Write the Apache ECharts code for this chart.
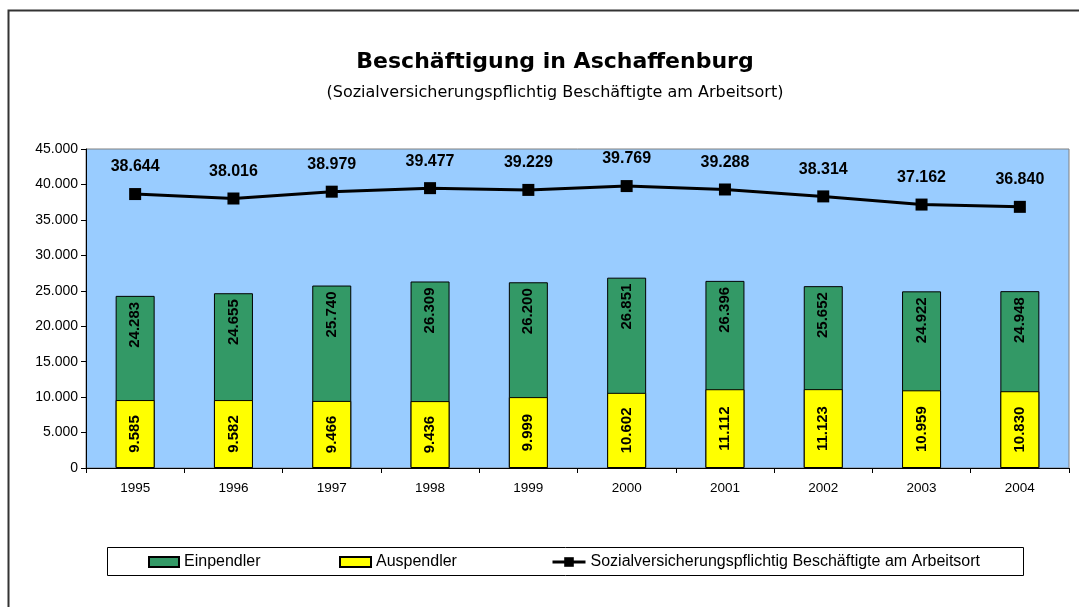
<!DOCTYPE html>
<html>
<head>
<meta charset="utf-8">
<title>Beschäftigung in Aschaffenburg</title>
<script src="https://cdn.jsdelivr.net/npm/echarts@6/dist/echarts.min.js"></script>
<style>
    html, body { margin: 0; padding: 0; background: #fff; }
    #chart { width: 1079px; height: 607px; }
</style>
</head>
<body>
<div id="chart"></div>
<script>
var years = ['1995', '1996', '1997', '1998', '1999', '2000', '2001', '2002', '2003', '2004'];
var einpendler = [24283, 24655, 25740, 26309, 26200, 26851, 26396, 25652, 24922, 24948];
var auspendler = [9585, 9582, 9466, 9436, 9999, 10602, 11112, 11123, 10959, 10830];
var beschaeftigte = [38644, 38016, 38979, 39477, 39229, 39769, 39288, 38314, 37162, 36840];

var nameEin = 'Einpendler';
var nameAus = 'Auspendler';
var nameSvb = 'Sozialversicherungspflichtig Beschäftigte am Arbeitsort';

// Zahlen mit Punkt als Tausendertrennzeichen
var fmt = function (v) {
    return String(v).replace(/\B(?=(\d{3})+(?!\d))/g, '.');
};

// eine Legende pro Eintrag, damit die Abstände wie im Original sind
var makeLegend = function (name, left, width, height) {
    var lg = {
        data: [{ name: name, icon: name === nameSvb ? undefined : 'rect' }],
        left: left,
        top: 554,
        padding: 0,
        itemWidth: width,
        itemHeight: height,
        textStyle: { fontSize: 16, color: '#000' }
    };
    if (name === nameSvb) {
        lg.lineStyle = { width: 3 };
    }
    return lg;
};

var init_chart = function () {
    var myChart = echarts.init(document.getElementById('chart'));
    var option = {
        animation: false,
        textStyle: { fontFamily: 'Arial, "Liberation Sans", sans-serif' },
        graphic: [{
            type: 'rect',
            shape: { x: 8.5, y: 10.5, width: 1100, height: 620 },
            style: { fill: null, stroke: '#333', lineWidth: 2 },
            silent: true
        }, {
            type: 'rect',
            shape: { x: 107.5, y: 547.5, width: 916, height: 28 },
            style: { fill: null, stroke: '#000', lineWidth: 1 },
            silent: true,
            z: -1
        }],
        title: {
            text: 'Beschäftigung in Aschaffenburg',
            subtext: '(Sozialversicherungspflichtig Beschäftigte am Arbeitsort)',
            left: 550,
            textAlign: 'center',
            top: 46,
            itemGap: 12,
            textStyle: { fontSize: 22, fontWeight: 'bold', color: '#000', fontFamily: '"DejaVu Sans", sans-serif' },
            subtextStyle: { fontSize: 16, color: '#000', fontFamily: '"DejaVu Sans", sans-serif' }
        },
        legend: [
            makeLegend(nameEin, 148, 30, 10),
            makeLegend(nameAus, 339, 31, 10),
            makeLegend(nameSvb, 551, 33, 12)
        ],
        grid: {
            left: 86,
            right: 10,
            top: 149,
            bottom: 139,
            show: true,
            backgroundColor: '#99ccff',
            borderColor: '#808080',
            borderWidth: 1
        },
        xAxis: {
            type: 'category',
            data: years,
            axisLine: { lineStyle: { color: '#000' } },
            axisTick: { show: true, length: 5, lineStyle: { color: '#000' } },
            axisLabel: { color: '#000', fontSize: 13.5, margin: 13 }
        },
        yAxis: {
            type: 'value',
            min: 0,
            max: 45000,
            interval: 5000,
            axisLine: { show: true, lineStyle: { color: '#000' } },
            axisTick: { show: true, length: 5, lineStyle: { color: '#000' } },
            splitLine: { show: false },
            axisLabel: { color: '#000', fontSize: 14, margin: 8, formatter: fmt }
        },
        series: [{
            name: nameEin,
            type: 'bar',
            data: einpendler,
            barWidth: 39,
            barGap: '-100%',
            itemStyle: { color: '#339966', borderColor: '#000', borderWidth: 1 },
            label: {
                show: true,
                position: 'insideTop',
                rotate: 90,
                align: 'right',
                verticalAlign: 'middle',
                distance: 6,
                fontSize: 15,
                fontWeight: 'bold',
                color: '#000',
                formatter: function (p) { return fmt(p.value); }
            }
        }, {
            name: nameAus,
            type: 'bar',
            data: auspendler,
            barWidth: 39,
            itemStyle: { color: '#ffff00', borderColor: '#000', borderWidth: 1 },
            label: {
                show: true,
                position: 'inside',
                rotate: 90,
                fontSize: 15,
                fontWeight: 'bold',
                color: '#000',
                formatter: function (p) { return fmt(p.value); }
            }
        }, {
            name: nameSvb,
            type: 'line',
            data: beschaeftigte,
            symbol: 'rect',
            symbolSize: 12,
            lineStyle: { color: '#000', width: 3 },
            itemStyle: { color: '#000' },
            label: {
                show: true,
                position: 'top',
                distance: 13,
                fontSize: 16,
                fontWeight: 'bold',
                color: '#000',
                formatter: function (p) { return fmt(p.value); }
            }
        }]
    };
    myChart.setOption(option);
};

init_chart();
</script>
</body>
</html>
